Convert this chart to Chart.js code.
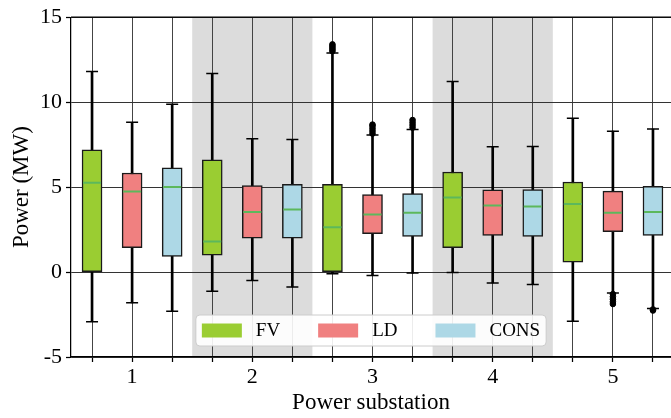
<!DOCTYPE html>
<html>
<head>
<meta charset="utf-8">
<script src="https://cdn.jsdelivr.net/npm/chart.js@4.4.1/dist/chart.umd.min.js"></script>
<style>
  html, body { margin: 0; padding: 0; background: #fff; overflow: hidden; }
  #wrap { position: relative; width: 671px; height: 418px; }
  #myChart { display: block; }
</style>
</head>
<body>
<div id="wrap"><canvas id="myChart"></canvas></div>
<script>
// substations on the x axis, three series per substation
const substations = ['1', '2', '3', '4', '5'];
const seriesNames = ['FV', 'LD', 'CONS'];
const shadedSubstations = ['2', '4'];
const yTicks = [-5, 0, 5, 10, 15];

// box statistics per substation: lower whisker, Q1, median, Q3, upper whisker
const fvLow  = [-2.92, -1.13, -0.10, -0.02, -2.90];
const fvQ1   = [0.00, 0.99, 0.02, 1.44, 0.58];
const fvMed  = [5.25, 1.80, 2.63, 4.39, 4.00];
const fvQ3   = [7.19, 6.61, 5.17, 5.89, 5.30];
const fvHigh = [11.80, 11.68, 12.90, 11.21, 9.05];
const fvOut  = [[], [], [13.0, 13.1, 13.2, 13.3, 13.4], [], []];

const ldLow  = [-1.81, -0.49, -0.21, -0.64, -1.23];
const ldQ1   = [1.44, 1.99, 2.26, 2.16, 2.38];
const ldMed  = [4.74, 3.53, 3.39, 3.92, 3.49];
const ldQ3   = [5.83, 5.09, 4.56, 4.84, 4.76];
const ldHigh = [8.81, 7.84, 8.07, 7.37, 8.29];
const ldOut  = [[], [], [8.15, 8.3, 8.45, 8.6, 8.68], [], [-1.3, -1.45, -1.6, -1.75, -1.88]];

const consLow  = [-2.30, -0.88, -0.06, -0.74, -2.14];
const consQ1   = [0.92, 1.99, 2.09, 2.09, 2.16];
const consMed  = [5.01, 3.68, 3.49, 3.86, 3.53];
const consQ3   = [6.14, 5.17, 4.62, 4.85, 5.05];
const consHigh = [9.88, 7.80, 8.39, 7.39, 8.42];
const consOut  = [[], [], [8.5, 8.65, 8.8, 8.95], [], [-2.2, -2.26]];

const stats = [
  { low: fvLow, q1: fvQ1, med: fvMed, q3: fvQ3, high: fvHigh, out: fvOut },
  { low: ldLow, q1: ldQ1, med: ldMed, q3: ldQ3, high: ldHigh, out: ldOut },
  { low: consLow, q1: consQ1, med: consMed, q3: consQ3, high: consHigh, out: consOut }
];
const boxColors = ['#9acd32', '#f08080', '#add8e6'];
const medianColor = '#5cb85c';
const serif = '"Liberation Serif", "Times New Roman", serif';

const nSeries = seriesNames.length;
const pos = (g, s) => g * nSeries + s;

const datasets = [];
stats.forEach((st, s) => {
  datasets.push({
    type: 'bar', label: seriesNames[s] + ' whisker', order: 5,
    data: substations.map((_, g) => ({ x: pos(g, s), y: [st.low[g], st.high[g]] })),
    backgroundColor: '#000', barThickness: 2, grouped: false
  });
  datasets.push({
    type: 'bar', label: seriesNames[s], order: 2,
    data: substations.map((_, g) => ({ x: pos(g, s), y: [st.q1[g], st.q3[g]] })),
    backgroundColor: boxColors[s], borderColor: '#1a1a1a', borderWidth: 1.5,
    borderSkipped: false, barThickness: 20, grouped: false
  });
  datasets.push({
    type: 'scatter', label: seriesNames[s] + ' caps', order: 3,
    data: substations.flatMap((_, g) => [
      { x: pos(g, s), y: st.low[g] }, { x: pos(g, s), y: st.high[g] }]),
    pointStyle: 'line', radius: 6, borderWidth: 1.5, borderColor: '#000'
  });
  datasets.push({
    type: 'scatter', label: seriesNames[s] + ' median', order: 1,
    data: substations.map((_, g) => ({ x: pos(g, s), y: st.med[g] })),
    pointStyle: 'line', radius: 9, borderWidth: 2, borderColor: medianColor
  });
  datasets.push({
    type: 'scatter', label: seriesNames[s] + ' outliers', order: 4,
    data: substations.flatMap((_, g) => st.out[g].map(v => ({ x: pos(g, s), y: v }))),
    pointStyle: 'circle', radius: 2.8, borderWidth: 1, borderColor: '#000', backgroundColor: '#000'
  });
});

const bandsPlugin = {
  id: 'bands',
  beforeDraw(chart) {
    const { ctx, chartArea, scales: { x } } = chart;
    ctx.save();
    ctx.fillStyle = '#dcdcdc';
    shadedSubstations.forEach(name => {
      const g = substations.indexOf(name);
      const x0 = x.getPixelForValue(pos(g, 0) - 0.5);
      const x1 = x.getPixelForValue(pos(g, nSeries - 1) + 0.5);
      ctx.fillRect(x0, chartArea.top, x1 - x0, chartArea.bottom - chartArea.top);
    });
    ctx.restore();
  }
};

const framePlugin = {
  id: 'frame',
  afterDraw(chart) {
    const { ctx, chartArea } = chart;
    ctx.save();
    ctx.strokeStyle = '#000';
    ctx.lineWidth = 1.25;
    ctx.beginPath();
    ctx.moveTo(chartArea.left, chartArea.top);
    ctx.lineTo(chartArea.right, chartArea.top);
    ctx.stroke();

    // legend, lower centre
    ctx.font = '19px ' + serif;
    const sw = 40, sh = 14, gap = 14, colGap = 38, pad = 6;
    const widths = seriesNames.map(n => ctx.measureText(n).width);
    let total = pad * 2 + colGap * (nSeries - 1);
    widths.forEach(w => { total += sw + gap + w; });
    const cx = (chartArea.left + chartArea.right) / 2;
    const bx = cx - total / 2, bh = 31, by = chartArea.bottom - 11 - bh;
    ctx.fillStyle = 'rgba(255,255,255,0.9)';
    ctx.strokeStyle = '#cccccc';
    ctx.lineWidth = 1;
    ctx.beginPath();
    ctx.roundRect(bx, by, total, bh, 4);
    ctx.fill();
    ctx.stroke();
    let xx = bx + pad;
    ctx.textBaseline = 'middle';
    seriesNames.forEach((n, i) => {
      ctx.fillStyle = boxColors[i];
      ctx.fillRect(xx, by + (bh - sh) / 2, sw, sh);
      ctx.fillStyle = '#000';
      ctx.fillText(n, xx + sw + gap, by + bh / 2 + 1);
      xx += sw + gap + widths[i] + colGap;
    });
    ctx.restore();
  }
};

Chart.defaults.font.family = serif;
Chart.defaults.font.size = 22;
Chart.defaults.color = '#000';

new Chart(document.getElementById('myChart').getContext('2d'), {
  type: 'bar',
  data: { datasets: datasets },
  options: {
    responsive: true,
    maintainAspectRatio: false,
    animation: false,
    layout: { autoPadding: false, padding: { top: 15, left: 0, right: 0, bottom: 0 } },
    plugins: { legend: { display: false }, tooltip: { enabled: false } },
    scales: {
      x: {
        type: 'linear',
        min: -0.525,
        max: 14.45,
        offset: false,
        afterBuildTicks: scale => {
          scale.ticks = substations.flatMap((_, g) => seriesNames.map((__, s) => ({ value: pos(g, s) })));
        },
        afterFit: scale => { scale.height = 61; },
        ticks: {
          autoSkip: false, maxRotation: 0, padding: 2, font: { family: serif, size: 22 },
          callback: v => (v % nSeries === 1 ? substations[(v - 1) / nSeries] : '')
        },
        grid: { offset: false, color: '#444', lineWidth: 1, tickLength: 5, tickColor: '#000', tickWidth: 1.25 },
        border: { color: '#000', width: 1.25 },
        title: { display: true, text: 'Power substation', font: { family: serif, size: 23 }, padding: { top: 0, bottom: 1 } }
      },
      y: {
        min: yTicks[0],
        max: yTicks[yTicks.length - 1],
        afterBuildTicks: scale => { scale.ticks = yTicks.map(v => ({ value: v })); },
        afterFit: scale => { scale.width = 71; },
        ticks: { padding: 4, font: { family: serif, size: 22 }, callback: v => String(v) },
        grid: { color: '#333', lineWidth: 1, tickLength: 5, tickColor: '#000', tickWidth: 1.25 },
        border: { color: '#000', width: 1.25 },
        title: { display: true, text: 'Power (MW)', font: { family: serif, size: 23 }, padding: { top: 8, bottom: 0 } }
      }
    }
  },
  plugins: [bandsPlugin, framePlugin]
});
</script>
</body>
</html>
